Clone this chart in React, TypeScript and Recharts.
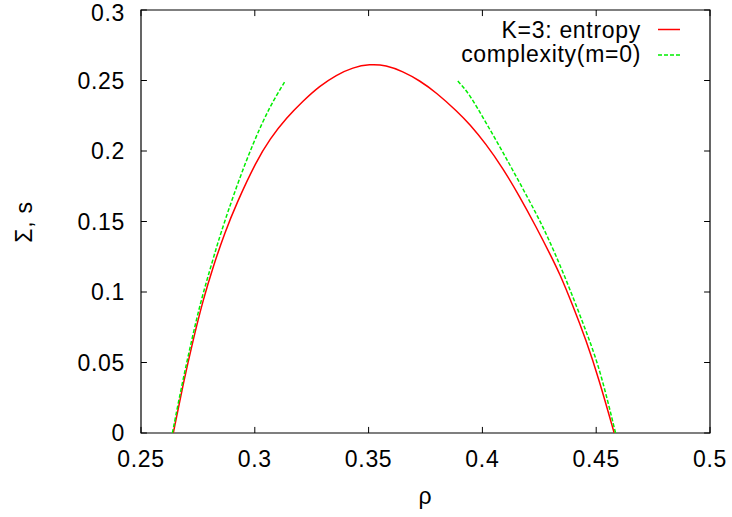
import React from 'react';
import { LineChart, Line, XAxis, YAxis, ReferenceLine, ReferenceArea, Label } from 'recharts';

// values
const entropyRho = [0.2642, 0.2686, 0.2729, 0.2773, 0.2817, 0.2868, 0.292, 0.3007, 0.3066, 0.3139, 0.3212, 0.3285, 0.3358, 0.3431, 0.3504, 0.3577, 0.365, 0.3724, 0.3797, 0.3892, 0.3943, 0.4016, 0.4089, 0.4162, 0.4236, 0.4301, 0.4338, 0.4396, 0.4455, 0.4513, 0.4579];
const entropyS = [0, 0.0354, 0.0661, 0.0945, 0.1181, 0.142, 0.163, 0.1929, 0.2086, 0.2235, 0.2355, 0.2461, 0.2539, 0.2593, 0.2616, 0.2609, 0.2564, 0.25, 0.2415, 0.2277, 0.2192, 0.205, 0.188, 0.1682, 0.1462, 0.1257, 0.1136, 0.0909, 0.0661, 0.0378, 0];

const complexityLeftRho = [0.2638, 0.2681, 0.2723, 0.2764, 0.2816, 0.2846, 0.292, 0.2993, 0.3066, 0.3135];
const complexityLeftSigma = [0, 0.0354, 0.0661, 0.0945, 0.1229, 0.1397, 0.1752, 0.2058, 0.2318, 0.25];

const complexityRightRho = [0.3892, 0.3943, 0.4016, 0.4089, 0.4162, 0.4236, 0.4286, 0.4352, 0.4411, 0.4469, 0.452, 0.4585];
const complexityRightSigma = [0.2496, 0.2405, 0.22, 0.1995, 0.178, 0.1558, 0.1395, 0.115, 0.091, 0.0665, 0.043, 0];

const xTicks = [0.25, 0.3, 0.35, 0.4, 0.45, 0.5];
const yTicks = [0, 0.05, 0.1, 0.15, 0.2, 0.25, 0.3];

const entropyData = entropyRho.map((r, i) => ({ rho: r, v: entropyS[i] }));
const leftData = complexityLeftRho.map((r, i) => ({ rho: r, v: complexityLeftSigma[i] }));
const rightData = complexityRightRho.map((r, i) => ({ rho: r, v: complexityRightSigma[i] }));

const FONT = '"Liberation Sans", Arial, Helvetica, sans-serif';
const FS = 23;
const RED = '#ff0000';
const GREEN = '#00ee00';

// inward tick length in data units (~6px)
const TX = 0.0026;
const TY = 0.0043;

export default function App() {
  return (
    <div style={{ position: 'absolute', left: 0, top: 0, width: 732, height: 517, background: '#fff', fontFamily: FONT, letterSpacing: '0.7px' }}>
      <LineChart width={732} height={517} margin={{ top: 10, right: 22, bottom: 0, left: 0 }}>
        <XAxis
          type="number"
          dataKey="rho"
          domain={[0.25, 0.5]}
          ticks={xTicks}
          allowDataOverflow
          tickLine={false}
          axisLine={false}
          tickSize={0}
          tickMargin={18}
          height={84}
          tick={{ fill: '#000', fontSize: FS }}
        >
          <Label
            content={() => (
              <text x={425.5} y={504} textAnchor="middle" fontSize={FS} fill="#000">ρ</text>
            )}
          />
        </XAxis>
        <YAxis
          type="number"
          domain={[0, 0.3]}
          ticks={yTicks}
          allowDataOverflow
          tickLine={false}
          axisLine={false}
          tickSize={0}
          tickMargin={16}
          width={141}
          tick={{ fill: '#000', fontSize: FS }}
        >
          <Label
            content={() => (
              <text x={32} y={222} transform="rotate(-90 32 222)" textAnchor="middle" fontSize={FS} fill="#000">Σ, s</text>
            )}
          />
        </YAxis>
        <ReferenceArea x1={0.25} x2={0.5} y1={0} y2={0.3} fill="none" fillOpacity={0} stroke="#000" strokeWidth={1.2} />
        {xTicks.map((t) => (
          <ReferenceLine key={'b' + t} segment={[{ x: t, y: 0 }, { x: t, y: TY }]} stroke="#000" />
        ))}
        {xTicks.map((t) => (
          <ReferenceLine key={'t' + t} segment={[{ x: t, y: 0.3 }, { x: t, y: 0.3 - TY }]} stroke="#000" />
        ))}
        {yTicks.map((t) => (
          <ReferenceLine key={'l' + t} segment={[{ x: 0.25, y: t }, { x: 0.25 + TX, y: t }]} stroke="#000" />
        ))}
        {yTicks.map((t) => (
          <ReferenceLine key={'r' + t} segment={[{ x: 0.5, y: t }, { x: 0.5 - TX, y: t }]} stroke="#000" />
        ))}
        <Line data={entropyData} dataKey="v" type="basis" stroke={RED} strokeWidth={1.5} dot={false} isAnimationActive={false} />
        <Line data={leftData} dataKey="v" type="basis" stroke={GREEN} strokeWidth={1.5} strokeDasharray="4 2" dot={false} isAnimationActive={false} />
        <Line data={rightData} dataKey="v" type="basis" stroke={GREEN} strokeWidth={1.5} strokeDasharray="4 2" dot={false} isAnimationActive={false} />
      </LineChart>
      <svg width={732} height={80} style={{ position: 'absolute', left: 0, top: 0, pointerEvents: 'none' }}>
        <text x={641} y={37.5} textAnchor="end" fontSize={FS} fill="#000">K=3: entropy</text>
        <line x1={658} x2={680} y1={29.5} y2={29.5} stroke={RED} strokeWidth={1.5} />
        <text x={641} y={61.5} textAnchor="end" fontSize={FS} fill="#000">complexity(m=0)</text>
        <line x1={658} x2={680} y1={55} y2={55} stroke={GREEN} strokeWidth={1.5} strokeDasharray="4 2" />
      </svg>
    </div>
  );
}
